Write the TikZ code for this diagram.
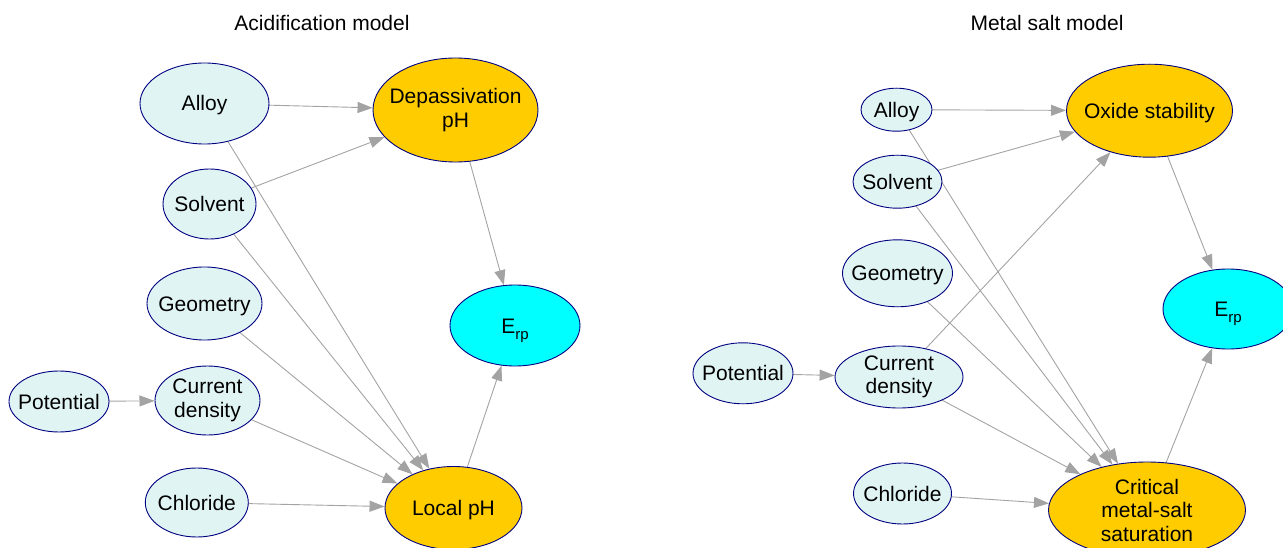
\documentclass[tikz,border=0pt]{standalone}
\usepackage{fontspec}
\setmainfont{Liberation Sans}
\usetikzlibrary{shapes.geometric,arrows.meta,backgrounds}
\definecolor{navyc}{HTML}{000080}
\definecolor{inputc}{HTML}{E1F4F4}
\definecolor{goldc}{HTML}{FFCC00}
\definecolor{cyanc}{HTML}{00FFFF}
\definecolor{edgec}{HTML}{A3A3A3}
\newcommand\erp{E\raisebox{-6pt}{\fontsize{15}{15}\selectfont rp}}
\begin{document}
\begin{tikzpicture}[x=1pt,y=-1pt,
  base/.style={ellipse, draw=navyc, line width=0.9pt, inner sep=0pt, outer sep=0pt},
  inp/.style={base, fill=inputc},
  midn/.style={base, fill=goldc},
  outn/.style={base, fill=cyanc},
  lbl/.style={font=\fontsize{21}{23.5}\selectfont, align=center, inner sep=0pt, text=black},
  lbl1/.style={font=\fontsize{21}{23.5}\selectfont, inner sep=0pt, text=black, text height=15pt, text depth=0pt},
  edge/.style={draw=edgec, line width=0.9pt, -{Triangle[length=15pt,width=11pt]}, shorten >=0.5pt}
]
\useasboundingbox (0,0) rectangle (1283,548);

% titles
\node[lbl1] (t1) at (322,23) {Acidification model};
\node[lbl1] (t2) at (1047,23) {Metal salt model};

% ---------- left panel ----------
\node[inp, minimum width=129pt, minimum height=81pt] (la) at (204.5,103.5) {};
\node[lbl1] (lat) at (la) {Alloy};
\node[midn, minimum width=165pt, minimum height=104pt] (ldp) at (455.5,110) {};
\node[lbl] (ldpt) at (ldp) {Depassivation\\pH};
\node[inp, minimum width=93pt, minimum height=70pt] (ls) at (209.5,204) {};
\node[lbl1] (lst) at (ls) {Solvent};
\node[inp, minimum width=115pt, minimum height=73pt] (lg) at (204.5,303.5) {};
\node[lbl1] (lgt) at (lg) {Geometry};
\node[outn, minimum width=130pt, minimum height=81pt] (le) at (515,325.5) {};
\node[lbl1] (let) at (le) {\erp};
\node[inp, minimum width=100pt, minimum height=61pt] (lp) at (59,401.5) {};
\node[lbl1] (lpt) at (lp) {Potential};
\node[inp, minimum width=105pt, minimum height=69pt] (lc) at (207.5,400.5) {};
\node[lbl] (lct) at (lc) {Current\\density};
\node[inp, minimum width=103pt, minimum height=69pt] (lcl) at (196.8,502.5) {};
\node[lbl1] (lclt) at (lcl) {Chloride};
\node[midn, minimum width=137pt, minimum height=83pt] (ll) at (453.5,508) {};
\node[lbl1] (llt) at (ll) {Local pH};

% ---------- right panel ----------
\node[inp, minimum width=71pt, minimum height=43pt] (ra) at (896.5,109.7) {};
\node[lbl1] (rat) at (ra) {Alloy};
\node[inp, minimum width=89pt, minimum height=53pt] (rs) at (897.5,181.7) {};
\node[lbl1] (rst) at (rs) {Solvent};
\node[inp, minimum width=110pt, minimum height=67pt] (rg) at (897.5,273.3) {};
\node[lbl1] (rgt) at (rg) {Geometry};
\node[inp, minimum width=100pt, minimum height=61pt] (rp) at (743,373.3) {};
\node[lbl1] (rpt) at (rp) {Potential};
\node[inp, minimum width=128pt, minimum height=62pt] (rc) at (899,377) {};
\node[lbl] (rct) at (rc) {Current\\density};
\node[inp, minimum width=98pt, minimum height=61pt] (rcl) at (902.5,493.5) {};
\node[lbl1] (rclt) at (rcl) {Chloride};
\node[midn, minimum width=166pt, minimum height=93pt] (ro) at (1149.5,110.7) {};
\node[lbl1] (rot) at (ro) {Oxide stability};
\node[outn, minimum width=130pt, minimum height=80pt] (re) at (1228,309) {};
\node[lbl1] (ret) at (re) {\erp};
\node[midn, minimum width=197pt, minimum height=96pt] (rcr) at (1147,510) {};
\node[lbl] (rcrt) at (rcr) {Critical\\metal-salt\\saturation};

\begin{scope}[on background layer]
  % left edges
  \draw[edge] (la) -- (ldp);
  \draw[edge] (ls) -- (ldp);
  \draw[edge] (la) -- (ll);
  \draw[edge] (ls) -- (ll);
  \draw[edge] (lg) -- (ll);
  \draw[edge] (lc) -- (ll);
  \draw[edge] (lcl) -- (ll);
  \draw[edge] (lp) -- (lc);
  \draw[edge] (ldp) -- (le);
  \draw[edge] (ll) -- (le);
  % right edges
  \draw[edge] (ra) -- (ro);
  \draw[edge] (rs) -- (ro);
  \draw[edge] (rc) -- (ro);
  \draw[edge] (ra) -- (rcr);
  \draw[edge] (rs) -- (rcr);
  \draw[edge] (rg) -- (rcr);
  \draw[edge] (rc) -- (rcr);
  \draw[edge] (rcl) -- (rcr);
  \draw[edge] (rp) -- (rc);
  \draw[edge] (ro) -- (re);
  \draw[edge] (rcr) -- (re);
\end{scope}
\end{tikzpicture}
\end{document}
